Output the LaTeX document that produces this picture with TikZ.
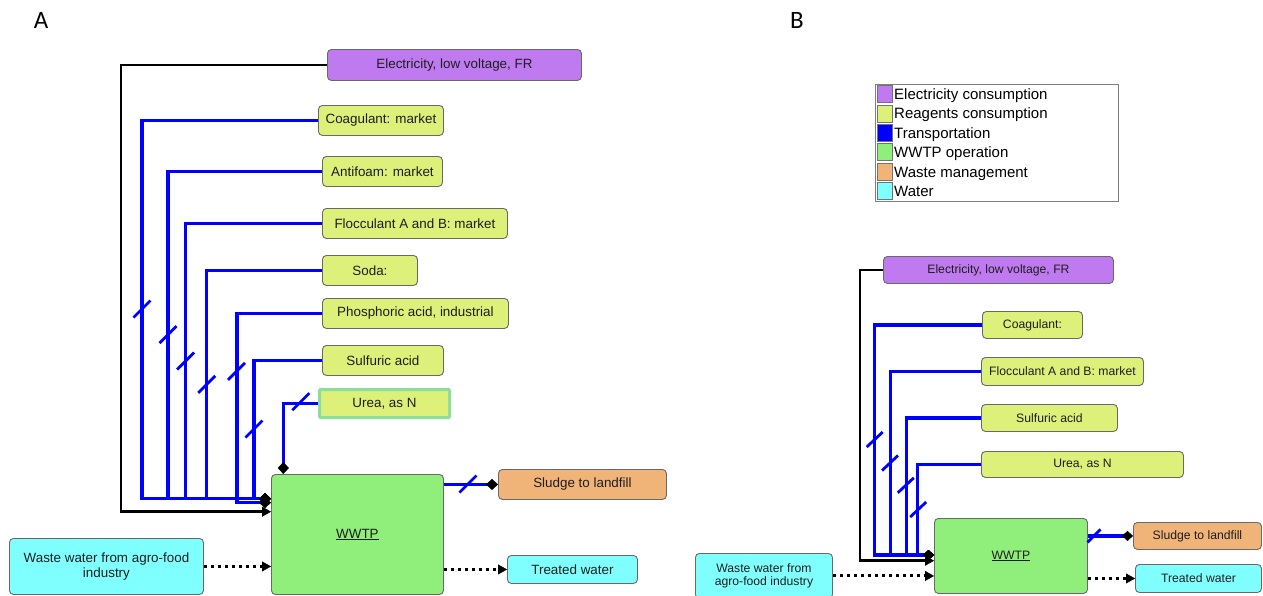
\documentclass[tikz,border=0pt]{standalone}
\usepackage{fontspec}
\setmainfont{Liberation Sans}
\newfontfamily\calibfont{Carlito}
\usetikzlibrary{arrows.meta}
\definecolor{pur}{RGB}{191,122,240}
\definecolor{reag}{RGB}{221,240,122}
\definecolor{wwtpc}{RGB}{144,238,122}
\definecolor{sludgec}{RGB}{240,180,120}
\definecolor{waterc}{RGB}{128,255,255}
\definecolor{tblue}{RGB}{0,0,255}
\definecolor{bord}{RGB}{105,105,105}
\definecolor{ureab}{RGB}{140,222,155}
\definecolor{txt}{RGB}{30,30,30}
\newcommand\bx[7]{\node[#6, minimum width={#4-#2}, minimum height={#5-#3}] (#1) at (#2,#3) {#7};}
\tikzset{
  bxbase/.style={draw=bord, line width=0.9pt, rounded corners=4pt, anchor=north west, inner sep=1pt, align=center, text=txt},
  fa/.style={font=\fontsize{13.4}{14.5}\selectfont},
  fb/.style={font=\fontsize{12.2}{13.7}\selectfont},
  elecbox/.style={bxbase, fill=pur},
  reagbox/.style={bxbase, fill=reag},
  wwtpbox/.style={bxbase, fill=wwtpc},
  sludgebox/.style={bxbase, fill=sludgec},
  waterbox/.style={bxbase, fill=waterc},
  flowA/.style={draw=tblue, line width=3.2pt, -{Diamond[length=12pt,width=11pt,line width=0.4pt,color=black]}},
  flowB/.style={draw=tblue, line width=3.2pt, -{Diamond[length=11pt,width=10pt,line width=0.4pt,color=black]}},
  flowBthin/.style={flowB, line width=2.3pt},
  elecflow/.style={draw=black, line width=2.8pt, -{Triangle[length=9pt,width=10pt,line width=0.4pt]}},
  waterflow/.style={draw=black, line width=3pt, dash pattern=on 3.5pt off 3.5pt, -{Triangle[length=9pt,width=10pt,line width=0.4pt]}},
  slash/.style={draw=tblue, line width=2.8pt},
  legsq/.style={draw=gray!90!black, line width=0.8pt, minimum width=15, minimum height=17, inner sep=0pt},
  legtxt/.style={anchor=base west, inner sep=0pt, font=\fontsize{15}{16}\selectfont, text=black},
  panel/.style={font=\calibfont\fontsize{25}{28}\selectfont, inner sep=0pt}
}
\begin{document}
\begin{tikzpicture}[x=1pt,y=-1pt]
\useasboundingbox (0,0) rectangle (1263,595);
% panel labels
\node[panel] (labA) at (41,20) {A};
\node[panel] (labB) at (797,20) {B};
% ---------- A ----------
\bx{elecA}{327}{49}{581}{80}{elecbox,fa}{Electricity, low voltage, FR}
\bx{coagA}{318}{105}{443}{135}{reagbox,fa}{Coagulant: market}
\bx{antiA}{322}{156}{442}{186}{reagbox,fa}{Antifoam: market}
\bx{flocA}{322}{208}{507}{238}{reagbox,fa}{Flocculant A and B: market}
\bx{sodaA}{322}{255}{417}{285}{reagbox,fa}{Soda:}
\bx{phosA}{322}{298}{508}{328}{reagbox,fa}{Phosphoric acid, industrial}
\bx{sulfA}{322}{345}{443}{375}{reagbox,fa}{Sulfuric acid}
\bx{ureaA}{318}{388}{448}{416}{reagbox,fa,draw=ureab,line width=3pt,rounded corners=1pt}{Urea, as N}
\bx{wwtpA}{271}{474}{443}{594}{wwtpbox,fa}{\underline{WWTP}}
\bx{sludgeA}{498}{469}{666}{499}{sludgebox,fa}{Sludge to landfill}
\bx{treatA}{507}{555}{637}{583}{waterbox,fa}{Treated water}
\bx{wasteA}{9}{538}{203}{594}{waterbox,fa}{Waste water from agro-food\\industry}
\coordinate (jAelec) at (121,511.7);
\coordinate (jAcoag) at (142,498.7);
\coordinate (jAanti) at (168,498.7);
\coordinate (jAfloc) at (185.3,498.7);
\coordinate (jAsoda) at (206.7,498.7);
\coordinate (jAphos) at (237,502.7);
\coordinate (jAsulf) at (254,498.7);
\coordinate (jAurea) at (283.3,474);
\draw[elecflow] (elecA.west) -| (jAelec) -- (jAelec -| wwtpA.west);
\draw[flowA] (coagA.west) -| (jAcoag) -- (jAcoag -| wwtpA.west);
\draw[flowA] (antiA.west) -| (jAanti) -- (jAanti -| wwtpA.west);
\draw[flowA] (flocA.west) -| (jAfloc) -- (jAfloc -| wwtpA.west);
\draw[flowA] (sodaA.west) -| (jAsoda) -- (jAsoda -| wwtpA.west);
\draw[flowA] (phosA.west) -| (jAphos) -- (jAphos -| wwtpA.west);
\draw[flowA] (sulfA.west) -| (jAsulf) -- (jAsulf -| wwtpA.west);
\draw[flowA] (ureaA.west) -| (jAurea);
\draw[flowA] (wwtpA.east |- sludgeA.west) -- (sludgeA.west);
\draw[waterflow] (wwtpA.east |- treatA.west) -- (treatA.west);
\draw[waterflow] (wasteA.east) -- (wasteA.east -| wwtpA.west);
\foreach \sx/\sy in {142/309, 168/334.7, 185.7/361, 206.8/384.3, 236.5/371.3, 254/429, 300.8/401.7, 468/484}
  \draw[slash] (\sx,\sy) ++(-8.5,8.5) -- ++(17,-17);
% ---------- legend ----------
\node[draw=gray, line width=1pt, fill=white, anchor=north west, minimum width=243, minimum height=117, inner sep=0pt] (legend) at (875,84) {};
\foreach \i/\c/\t in {0/pur/Electricity consumption, 1/reag/Reagents consumption, 2/tblue/Transportation, 3/wwtpc/WWTP operation, 4/sludgec/Waste management, 5/waterc/Water}{
  \node[legsq, fill=\c] (lsq\i) at (885, 94+19.45*\i) {};
  \node[legtxt] (ltx\i) at (894, 99.5+19.45*\i) {\t};
}
% ---------- B ----------
\bx{elecB}{883}{256}{1113}{283}{elecbox,fb}{Electricity, low voltage, FR}
\bx{coagB}{982}{311}{1082}{338}{reagbox,fb}{Coagulant:}
\bx{flocB}{981}{357}{1143}{385}{reagbox,fb}{Flocculant A and B: market}
\bx{sulfB}{981}{404}{1117}{431}{reagbox,fb}{Sulfuric acid}
\bx{ureaB}{981}{451}{1183}{477}{reagbox,fb}{Urea, as N}
\bx{wwtpB}{934}{518}{1087}{593}{wwtpbox,fb}{\underline{WWTP}}
\bx{sludgeB}{1133}{522}{1261}{549}{sludgebox,fb}{Sludge to landfill}
\bx{treatB}{1135}{564}{1261}{592}{waterbox,fb}{Treated water}
\bx{wasteB}{695}{553}{832}{598}{waterbox,fb}{Waste water from\\agro-food industry}
\coordinate (jBelec) at (860,560.7);
\coordinate (jBcoag) at (874.3,555);
\coordinate (jBfloc) at (890.5,555);
\coordinate (jBsulf) at (906.3,555);
\coordinate (jBurea) at (917.3,555);
\draw[elecflow] (elecB.west) -| (jBelec) -- (jBelec -| wwtpB.west);
\draw[flowB] (coagB.west) -| (jBcoag) -- (jBcoag -| wwtpB.west);
\draw[flowBthin] (flocB.west) -| (jBfloc) -- (jBfloc -| wwtpB.west);
\draw[flowB] (sulfB.west) -| (jBsulf) -- (jBsulf -| wwtpB.west);
\draw[flowB] (ureaB.west) -| (jBurea) -- (jBurea -| wwtpB.west);
\draw[flowB] (wwtpB.east |- sludgeB.west) -- (sludgeB.west);
\draw[waterflow] (wwtpB.east |- treatB.west) -- (treatB.west);
\draw[waterflow] (wasteB.east) -- (wasteB.east -| wwtpB.west);
\foreach \sx/\sy in {874.7/439.5, 890/463, 905.8/485.3, 918.2/509.5}
  \draw[slash] (\sx,\sy) ++(-8,7.5) -- ++(16,-15);
\draw[slash] (1094,535.8) ++(-6.5,6.5) -- ++(13,-13);
\end{tikzpicture}
\end{document}
